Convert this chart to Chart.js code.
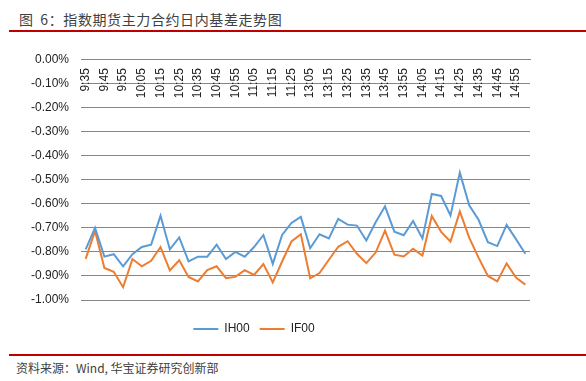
<!DOCTYPE html>
<html>
<head>
<meta charset="utf-8">
<script src="https://cdn.jsdelivr.net/npm/chart.js@4.4.0/dist/chart.umd.min.js"></script>
<style>
  body { margin: 0; width: 586px; height: 381px; background: #fff; overflow: hidden; position: relative; }
  #title { position: absolute; left: 19px; top: 10px; line-height: 18px; font-size: 14px; letter-spacing: 0.6px; word-spacing: 3px;
           font-family: "Noto Sans CJK SC", sans-serif; color: #404040; white-space: nowrap; }
  .redline { position: absolute; height: 2px; background: #C00000; right: 0; }
  #source { position: absolute; left: 16px; top: 360px; line-height: 16px; font-size: 12px;
            font-family: "Noto Sans CJK SC", sans-serif; color: #404040; white-space: nowrap; }
  #wrap { position: absolute; left: -22px; top: 40px; width: 608px; height: 305px; }
</style>
</head>
<body>
<div id="title">图 6：指数期货主力合约日内基差走势图</div>
<div class="redline" style="left:9px; top:30px;"></div>
<div id="wrap"><canvas id="basisChart"></canvas></div>
<div class="redline" style="left:9px; top:354px;"></div>
<div id="source">资料来源：Wind, 华宝证券研究创新部</div>
<script>
// 5分钟时点
var times = ['9:35', '9:40', '9:45', '9:50', '9:55', '10:00', '10:05', '10:10', '10:15', '10:20', '10:25', '10:30',
             '10:35', '10:40', '10:45', '10:50', '10:55', '11:00', '11:05', '11:10', '11:15', '11:20', '11:25', '11:30',
             '13:05', '13:10', '13:15', '13:20', '13:25', '13:30', '13:35', '13:40', '13:45', '13:50', '13:55', '14:00',
             '14:05', '14:10', '14:15', '14:20', '14:25', '14:30', '14:35', '14:40', '14:45', '14:50', '14:55', '15:00'];

// 基差 (%)
var ih00 = [-0.79, -0.70, -0.82, -0.81, -0.86, -0.81, -0.78, -0.77, -0.65, -0.79, -0.74, -0.84,
            -0.82, -0.82, -0.77, -0.83, -0.80, -0.82, -0.78, -0.73, -0.85, -0.73, -0.68, -0.655,
            -0.785, -0.727, -0.744, -0.663, -0.687, -0.691, -0.753, -0.677, -0.611, -0.716, -0.731, -0.672,
            -0.744, -0.56, -0.568, -0.649, -0.471, -0.607, -0.667, -0.76, -0.776, -0.688, -0.747, -0.808];
var if00 = [-0.829, -0.713, -0.867, -0.883, -0.947, -0.83, -0.86, -0.837, -0.78, -0.877, -0.835, -0.904,
            -0.923, -0.876, -0.86, -0.909, -0.904, -0.876, -0.896, -0.851, -0.927, -0.84, -0.757, -0.727,
            -0.91, -0.888, -0.833, -0.779, -0.756, -0.808, -0.847, -0.803, -0.712, -0.812, -0.819, -0.787,
            -0.815, -0.651, -0.717, -0.757, -0.632, -0.741, -0.824, -0.9, -0.923, -0.848, -0.907, -0.936];

var yMin = -1.0, yMax = 0, yStep = 0.1;

var gridColor = '#868686';
var font = { family: 'Arial, "Liberation Sans", sans-serif', size: 12 };

var ctx = document.getElementById('basisChart');

let basisChart = new Chart(ctx, {
    type: 'line',
    data: {
        labels: times,
        datasets: [
            {
                label: 'IH00',
                data: ih00,
                borderColor: '#5B9BD5',
                backgroundColor: '#5B9BD5',
                borderWidth: 2,
                pointRadius: 0,
                tension: 0
            },
            {
                label: 'IF00',
                data: if00,
                borderColor: '#ED7D31',
                backgroundColor: '#ED7D31',
                borderWidth: 2,
                pointRadius: 0,
                tension: 0
            }
        ]
    },
    options: {
        responsive: true,
        maintainAspectRatio: false,
        animation: false,
        layout: { padding: { left: 0, right: 56, top: 10, bottom: 0 } },
        plugins: {
            tooltip: { enabled: false },
            legend: {
                position: 'bottom',
                // empty title only pushes the legend row down a bit
                title: { display: true, text: '', font: { size: 10, lineHeight: 1.3 }, padding: 0 },
                labels: {
                    usePointStyle: true,
                    pointStyle: 'line',
                    pointStyleWidth: 25,
                    padding: 10,
                    color: '#222',
                    font: font
                }
            }
        },
        scales: {
            x: {
                position: { y: 0 },
                offset: true,
                grid: { display: false, drawTicks: false },
                border: { display: true, color: gridColor, width: 1 },
                ticks: {
                    autoSkip: false,
                    minRotation: 90,
                    maxRotation: 90,
                    padding: 9,
                    color: '#222',
                    font: font,
                    callback: function(value, index) {
                        return index % 2 === 0 ? this.getLabelForValue(value) : '';
                    }
                }
            },
            y: {
                min: yMin,
                max: yMax,
                afterFit: function(scale) { scale.width = 103; },
                grid: { color: gridColor, lineWidth: 1, drawTicks: false },
                border: { display: false },
                ticks: {
                    stepSize: yStep,
                    padding: 12,
                    color: '#222',
                    font: font,
                    callback: function(v) { return v.toFixed(2) + '%'; }
                }
            }
        }
    }
});
</script>
</body>
</html>
